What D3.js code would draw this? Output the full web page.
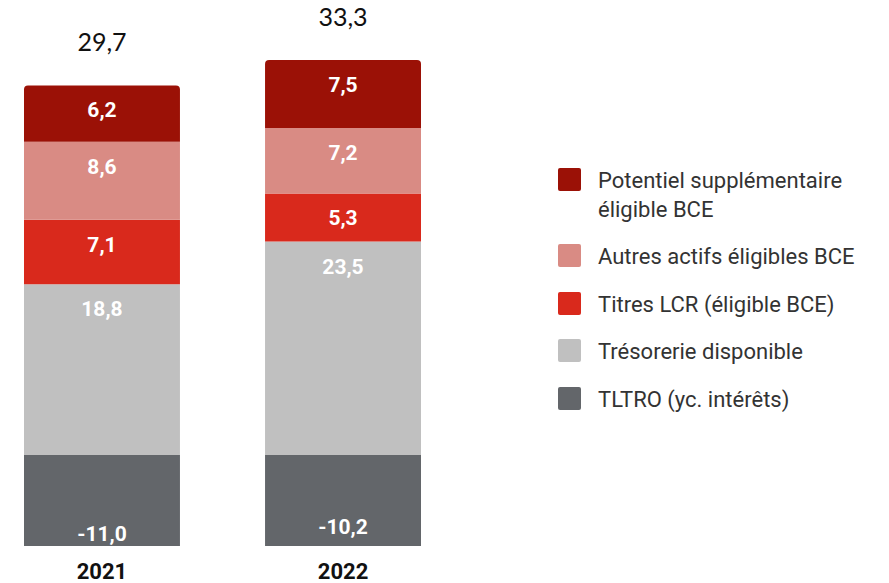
<!DOCTYPE html>
<html>
<head>
<meta charset="utf-8">
<script src="https://cdn.jsdelivr.net/npm/d3@7"></script>
<style>
  body { margin: 0; background: #fff; }
  svg { display: block; }
</style>
</head>
<body>
<div id="chart"></div>
<script>
// Daten
const years = ["2021", "2022"];
const series = [
  "TLTRO (yc. intérêts)",
  "Trésorerie disponible",
  "Titres LCR (éligible BCE)",
  "Autres actifs éligibles BCE",
  "Potentiel supplémentaire éligible BCE"
];
const tltro = [-11.0, -10.2];
const tresorerie = [18.8, 23.5];
const titresLcr = [7.1, 5.3];
const autresActifs = [8.6, 7.2];
const potentiel = [6.2, 7.5];
const totals = [29.7, 33.3];

const colors = ["#63666a", "#c0c0c0", "#d9291c", "#d98b84", "#9b1106"];
const legendLines = [
  ["Potentiel supplémentaire", "éligible BCE"],
  ["Autres actifs éligibles BCE"],
  ["Titres LCR (éligible BCE)"],
  ["Trésorerie disponible"],
  ["TLTRO (yc. intérêts)"]
];

const width = 889, height = 583;
const fmt = v => d3.format(".1f")(v).replace(".", ",").replace("−", "-");

const svg = d3.select("#chart").append("svg")
  .attr("width", width)
  .attr("height", height);

const x = d3.scaleBand().domain(years).range([24, 421]).paddingInner(0.353).paddingOuter(0);
const y = d3.scaleLinear().domain([-12, 46]).range([455 + 12 * 9.08, 455 - 46 * 9.08]);

// Segmente aufbauen
const positiveSeries = [tresorerie, titresLcr, autresActifs, potentiel];
const segments = [];
years.forEach((yr, i) => {
  segments.push({ year: yr, y0: tltro[i], y1: 0, color: colors[0], value: tltro[i], neg: true, top: false });
  let acc = 0;
  positiveSeries.forEach((s, k) => {
    segments.push({ year: yr, y0: acc, y1: acc + s[i], color: colors[k + 1], value: s[i], neg: false, top: k === positiveSeries.length - 1 });
    acc += s[i];
  });
});

svg.append("clipPath").attr("id", "plotClip")
  .append("rect").attr("x", 0).attr("y", 0).attr("width", width).attr("height", 546);

const r = 4;
function segPath(d) {
  const x0 = x(d.year), x1 = x(d.year) + x.bandwidth();
  const top = y(Math.max(d.y0, d.y1)), bot = y(Math.min(d.y0, d.y1));
  if (!d.top) return `M${x0},${top}H${x1}V${bot}H${x0}Z`;
  return `M${x0},${bot}V${top + r}Q${x0},${top} ${x0 + r},${top}H${x1 - r}Q${x1},${top} ${x1},${top + r}V${bot}Z`;
}

svg.append("g").attr("clip-path", "url(#plotClip)")
  .selectAll("path")
  .data(segments)
  .enter()
  .append("path")
  .attr("d", segPath)
  .attr("fill", d => d.color);

// Segmentbeschriftung
svg.append("g")
  .selectAll("text")
  .data(segments)
  .enter()
  .append("text")
  .attr("x", d => x(d.year) + x.bandwidth() / 2)
  .attr("y", d => d.neg ? y(d.y0) - 14 : y(d.y1) + 32)
  .attr("text-anchor", "middle")
  .attr("fill", "#fff")
  .style("font-family", "Roboto, sans-serif")
  .style("font-weight", "bold")
  .style("font-size", "21px")
  .text(d => fmt(d.value));

// Summen
svg.append("g")
  .selectAll("text")
  .data(years)
  .enter()
  .append("text")
  .attr("x", d => x(d) + x.bandwidth() / 2)
  .attr("y", (d, i) => y(totals[i] - tltro[i]) - 34)
  .attr("text-anchor", "middle")
  .attr("fill", "#111")
  .style("font-family", "Lato, sans-serif")
  .style("font-size", "25px")
  .text((d, i) => fmt(totals[i]));

// Jahre
svg.append("g")
  .selectAll("text")
  .data(years)
  .enter()
  .append("text")
  .attr("x", d => x(d) + x.bandwidth() / 2)
  .attr("y", 579)
  .attr("text-anchor", "middle")
  .attr("fill", "#111")
  .style("font-family", "Roboto, sans-serif")
  .style("font-weight", "bold")
  .style("font-size", "22px")
  .text(d => d);

// Legende
const legendTops = [168, 244, 292, 339, 387];
const legend = svg.append("g");
legendLines.forEach((lines, i) => {
  const g = legend.append("g").attr("transform", `translate(558, ${legendTops[i]})`);
  g.append("rect")
    .attr("width", 23).attr("height", 23).attr("rx", 2)
    .attr("fill", colors[colors.length - 1 - i]);
  lines.forEach((t, j) => {
    g.append("text")
      .attr("x", 40)
      .attr("y", 20 + j * 29)
      .attr("fill", "#333")
      .style("font-family", "Roboto, sans-serif")
      .style("font-size", "22px")
      .text(t);
  });
});
</script>
</body>
</html>
